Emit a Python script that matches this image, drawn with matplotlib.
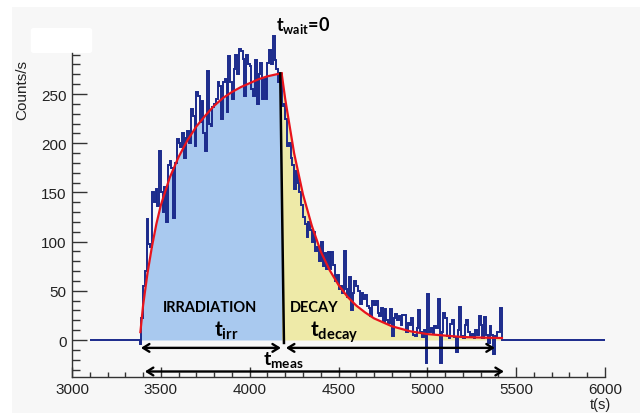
import numpy as np
import matplotlib.pyplot as plt
from matplotlib.patches import Rectangle, FancyBboxPatch

# histogram counts/s, 10 s bins starting at t = 3380 s
bin_width = 10
hist_start = 3380
counts = [
    -4, 22, 55, 70, 123, 98, 95, 150, 140, 153, 136, 192, 150, 130, 155, 120,
    178, 182, 175, 124, 180, 204, 200, 196, 210, 185, 205, 212, 200, 235, 228,
    197, 252, 248, 222, 243, 210, 192, 273, 220, 218, 237, 240, 245, 262, 258,
    225, 262, 265, 232, 289, 262, 245, 275, 290, 270, 296, 294, 286, 248, 290,
    280, 278, 255, 248, 285, 240, 270, 282, 245, 265, 245, 282, 295, 280, 309,
    285, 275, 262, 270,
    # decay part (from 4180 s)
    238, 240, 225, 197, 200, 185, 178, 153, 172, 160, 150, 137, 125, 118, 105,
    120, 112, 100, 110, 90, 95, 80, 100, 75,
    88, 72, 89, 72, 89, 76, 60, 66, 52, 55, 48, 90, 52, 44, 64, 30, 48, 60, 55,
    50, 37, 48, 42, 46, 35, 33, 24, 40, 36, 40, 27, 24, 33, 18, 32, 20, 17, 32,
    4, 22, 26, 20, 24, 15,
    25, 25, 8, 17, 15, 22, 5, 4, 12, 30, 8, 3, 10, -23, 47, 8, 12, 6, 14, 12,
    42, -23, 8, 27, 22, 4, 2, 16, 20, 3, -12, 10, 34, 4, 2,
    15, 20, 8, 4, 6, 2, 10, 5, 24, 15, 2, 23, 5, -3, 14, 5, -14, 4, 8, 8, 33,
]
range_start, range_end = 3100, 6000

# fitted curve
fit_irr_t = [3385, 3400, 3425, 3450, 3475, 3500, 3550, 3600, 3650, 3700, 3750,
             3800, 3850, 3900, 3950, 4000, 4050, 4100, 4150, 4180]
fit_irr_y = [8, 35, 68, 95, 118, 137, 165, 186, 203, 217, 228,
             238, 246, 252, 257, 261, 265, 268, 270, 271]
fit_dec_t = [4180, 4200, 4250, 4300, 4350, 4400, 4450, 4500, 4550, 4600, 4650,
             4700, 4750, 4800, 4850, 4900, 4950, 5000, 5100, 5200, 5300, 5420]
fit_dec_y = [271, 245, 190, 148, 116, 90, 71, 56, 44, 35, 28,
             22, 18, 14, 11.5, 9, 7.5, 6, 4.5, 3, 2.5, 2]

t_wait = 4180

plt.rcParams['mathtext.fontset'] = 'custom'
plt.rcParams['mathtext.bf'] = 'Lato:bold'
plt.rcParams['mathtext.rm'] = 'Lato'
plt.rcParams['mathtext.it'] = 'Lato:italic'

fig = plt.figure(figsize=(6.4, 4.14), dpi=100)
fig.patch.set_facecolor('white')
# light grey panel behind the plot
fig.patches.append(Rectangle((12 / 640, 0), 1, 1 - 8 / 414, transform=fig.transFigure,
                             facecolor='#f7f7f7', edgecolor='none', zorder=-10))
fig.patches.append(FancyBboxPatch((34 / 640, 1 - 52 / 414), 55 / 640, 21 / 414,
                                  boxstyle='round,pad=0.005', transform=fig.transFigure,
                                  facecolor='white', edgecolor='none', zorder=-5))

ax = fig.add_axes([72 / 640, 1 - 378.4 / 414, 533 / 640, 362.1 / 414])
ax.patch.set_alpha(0)

# fills under the fit
ax.fill_between(fit_irr_t, fit_irr_y, 0, color='#a9c9ef', lw=0, zorder=1)
ax.fill_between(fit_dec_t, fit_dec_y, 0, color='#eeeaa8', lw=0, zorder=1)

# histogram
n = len(counts)
lead = (hist_start - range_start) // bin_width
tail = (range_end - (hist_start + n * bin_width)) // bin_width
values = np.concatenate([np.zeros(lead), counts, np.zeros(tail)])
edges = range_start + bin_width * np.arange(len(values) + 1)
ax.stairs(values, edges, color='#1b2a8c', lw=1.4, zorder=3, clip_on=False)

# fit
ax.plot(fit_irr_t, fit_irr_y, color='#e8141c', lw=1.6, zorder=4)
ax.plot(fit_dec_t, fit_dec_y, color='#e8141c', lw=1.6, zorder=4)

# t_wait boundary
ax.plot([t_wait - 8, t_wait + 13], [271, -3], color='black', lw=1.8, zorder=5)

# arrows
arr = dict(arrowstyle='<->,head_length=0.45,head_width=0.28', lw=1.7, color='black',
           shrinkA=0, shrinkB=0)
ax.annotate('', xy=(4176, -8), xytext=(3388, -8), arrowprops=arr, zorder=6)
ax.annotate('', xy=(5380, -8), xytext=(4204, -8), arrowprops=arr, zorder=6)
ax.annotate('', xy=(5431, -32), xytext=(3410, -32), arrowprops=arr, zorder=6,
            annotation_clip=False)

# labels inside plot
ax.text(3774, 34, 'IRRADIATION', fontfamily='Lato', fontweight='bold', fontsize=10.5,
        ha='center', va='center', zorder=7)
ax.text(4362, 34, 'DECAY', fontfamily='Lato', fontweight='bold', fontsize=10.5,
        ha='center', va='center', zorder=7)
ax.text(3867, 4, r'$\mathbf{t_{irr}}$', fontsize=15, ha='center', va='baseline', zorder=7)
ax.text(4474, 4, r'$\mathbf{t_{decay}}$', fontsize=15, ha='center', va='baseline', zorder=7)
ax.text(4187, -24, r'$\mathbf{t_{meas}}$', fontsize=14, ha='center', va='baseline', zorder=7)
ax.text(4300, 321, r'$\mathbf{t_{wait}}$=0', fontfamily='Lato', fontweight='bold',
        fontsize=13, ha='center', va='center', zorder=7)

# axes styling
ax.set_xlim(range_start - 100, range_end)
ax.set_ylim(-38, 330)
for side in ['top', 'right']:
    ax.spines[side].set_visible(False)
ax.spines['left'].set_bounds(-38, 292)
for side in ['left', 'bottom']:
    ax.spines[side].set_color('#333333')
    ax.spines[side].set_linewidth(1.0)

ax.set_xticks(np.arange(3000, 6001, 500))
ax.set_xticks(np.arange(3000, 6001, 100), minor=True)
ax.set_yticks(np.arange(0, 251, 50))
ax.set_yticks(np.arange(-30, 291, 10), minor=True)
ax.tick_params(axis='both', which='both', direction='in', color='#333333', width=1.0,
               labelsize=11)
ax.tick_params(axis='y', which='major', length=11, pad=4)
ax.tick_params(axis='y', which='minor', length=5.5)
ax.tick_params(axis='x', which='major', length=7.5, pad=3)
ax.tick_params(axis='x', which='minor', length=3.6)
for lab in ax.get_xticklabels() + ax.get_yticklabels():
    lab.set_fontfamily('Liberation Sans')
    lab.set_color('#222222')

fig.text(22 / 640, 1 - 60 / 414, 'Counts/s', rotation=90, ha='center', va='top',
         fontfamily='Liberation Sans', fontsize=11, color='#222222')
fig.text(611 / 640, 1 - 398 / 414, 't(s)', ha='right', va='top',
         fontfamily='Liberation Sans', fontsize=10.5, color='#222222')

fig.savefig('out.png', dpi=100)
